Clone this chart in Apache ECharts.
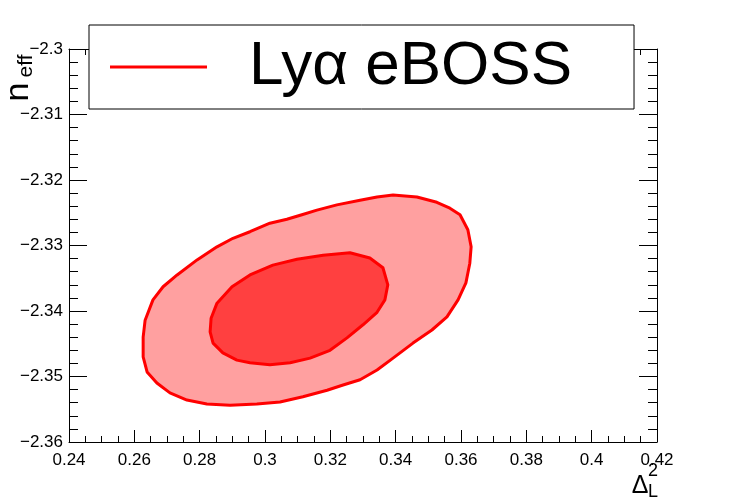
<!DOCTYPE html>
<html>
<head>
<meta charset="utf-8">
<script src="https://cdn.jsdelivr.net/npm/echarts@6/dist/echarts.min.js"></script>
<style>
  html, body { margin: 0; padding: 0; background: #fff; }
  #chart { width: 747px; height: 502px; }
</style>
</head>
<body>
<div id="chart"></div>
<script>
// 95% contour (outer)
var outerContour = [
  [0.3392, -2.3223], [0.3465, -2.3226], [0.3526, -2.3234], [0.3566, -2.3243],
  [0.3597, -2.3253], [0.3621, -2.3276], [0.3631, -2.3302], [0.3627, -2.3327],
  [0.3615, -2.3357], [0.3591, -2.3383], [0.3557, -2.3409], [0.3511, -2.3429],
  [0.3453, -2.3449], [0.3392, -2.3472], [0.3343, -2.3490], [0.3291, -2.3505],
  [0.3239, -2.3513], [0.3190, -2.3521], [0.3116, -2.3531], [0.3046, -2.3539],
  [0.2975, -2.3542], [0.2893, -2.3544], [0.2822, -2.3542], [0.2761, -2.3536],
  [0.2709, -2.3525], [0.2669, -2.3510], [0.2639, -2.3493], [0.2627, -2.3470],
  [0.2627, -2.3440], [0.2633, -2.3414], [0.2657, -2.3383], [0.2688, -2.3363],
  [0.2731, -2.3345], [0.2792, -2.3322], [0.2853, -2.3302], [0.2902, -2.3289],
  [0.2954, -2.3279], [0.3015, -2.3266], [0.3067, -2.3260], [0.3113, -2.3253],
  [0.3159, -2.3246], [0.3220, -2.3238], [0.3291, -2.3231], [0.3343, -2.3226]
];
// 68% contour (inner)
var innerContour = [
  [0.3260, -2.3311], [0.3321, -2.3319], [0.3361, -2.3334], [0.3376, -2.3360],
  [0.3367, -2.3383], [0.3343, -2.3402], [0.3300, -2.3421], [0.3251, -2.3441],
  [0.3199, -2.3460], [0.3138, -2.3472], [0.3077, -2.3479], [0.3015, -2.3482],
  [0.2954, -2.3479], [0.2914, -2.3475], [0.2871, -2.3464], [0.2841, -2.3449],
  [0.2832, -2.3432], [0.2835, -2.3411], [0.2853, -2.3388], [0.2899, -2.3363],
  [0.2954, -2.3345], [0.3024, -2.3330], [0.3098, -2.3321], [0.3178, -2.3315]
];
var legendName = 'Lyα eBOSS';
var xRange = [0.24, 0.42];
var yRange = [-2.36, -2.3];

var font = "'Liberation Sans', Arial, Helvetica, sans-serif";

function fmt(v) {
  return String(parseFloat(v.toFixed(3))).replace('-', '\u2212');
}

function contour(name, points, fill) {
  return {
    name: name,
    type: 'custom',
    coordinateSystem: 'cartesian2d',
    xAxisIndex: 0,
    yAxisIndex: 0,
    silent: true,
    itemStyle: { color: '#ff0000' },
    data: [points[0]],
    renderItem: function (params, api) {
      return {
        type: 'polygon',
        shape: { points: points.map(function (p) { return api.coord(p); }) },
        style: { fill: fill, stroke: '#ff0000', lineWidth: 3, lineJoin: 'round' }
      };
    }
  };
}

function xAxis(pos) {
  return {
    type: 'value', position: pos, min: xRange[0], max: xRange[1], interval: 0.02,
    axisLine: { show: true, onZero: false, lineStyle: { color: '#000', width: 1 } },
    axisTick: { show: true, inside: true, length: 12, lineStyle: { color: '#000' } },
    minorTick: { show: true, splitNumber: 4, length: 6, lineStyle: { color: '#000' } },
    axisLabel: {
      show: pos === 'bottom', formatter: fmt, margin: 10, showMinLabel: true, showMaxLabel: true,
      color: '#000', fontSize: 17, fontFamily: font
    },
    splitLine: { show: false }
  };
}

function yAxis(pos) {
  return {
    type: 'value', position: pos, min: yRange[0], max: yRange[1], interval: 0.01,
    axisLine: { show: true, onZero: false, lineStyle: { color: '#000', width: 1 } },
    axisTick: { show: true, inside: true, length: 18, lineStyle: { color: '#000' } },
    minorTick: { show: true, splitNumber: 5, length: 9, lineStyle: { color: '#000' } },
    axisLabel: {
      show: pos === 'left', formatter: fmt, margin: 6, showMinLabel: true, showMaxLabel: true,
      color: '#000', fontSize: 17, fontFamily: font
    },
    splitLine: { show: false }
  };
}

var chart = echarts.init(document.getElementById('chart'));
chart.setOption({
  animation: false,
  backgroundColor: '#fff',
  grid: { left: 69, right: 90, top: 49, bottom: 60 },
  xAxis: [xAxis('bottom'), xAxis('top')],
  yAxis: [yAxis('left'), yAxis('right')],
  legend: {
    data: [{ name: legendName, icon: 'rect' }],
    left: 89, top: 25,
    padding: [9, 62, 9, 21],
    backgroundColor: '#fff',
    borderColor: '#000', borderWidth: 1, borderRadius: 0,
    itemWidth: 97, itemHeight: 3,
    itemStyle: { color: '#ff0000' },
    textStyle: { fontSize: 62, lineHeight: 66, fontFamily: font, color: '#000', padding: [0, 0, 0, 37] }
  },
  graphic: [
    { type: 'text', x: 19, y: 92, rotation: Math.PI / 2,
      style: { text: 'n', fontSize: 34, fontFamily: font, fill: '#000', align: 'center', verticalAlign: 'middle' } },
    { type: 'text', x: 26, y: 66, rotation: Math.PI / 2,
      style: { text: 'eff', fontSize: 21, fontFamily: font, fill: '#000', align: 'center', verticalAlign: 'middle' } },
    { type: 'text', x: 640, y: 486,
      style: { text: 'Δ', fontSize: 25, fontFamily: font, fill: '#000', align: 'center', verticalAlign: 'middle' } },
    { type: 'text', x: 653, y: 471,
      style: { text: '2', fontSize: 18, fontFamily: font, fill: '#000', align: 'center', verticalAlign: 'middle' } },
    { type: 'text', x: 653, y: 492,
      style: { text: 'L', fontSize: 18, fontFamily: font, fill: '#000', align: 'center', verticalAlign: 'middle' } }
  ],
  series: [
    contour(legendName, outerContour, '#ffa0a0'),
    contour('inner', innerContour, '#ff4040')
  ]
});
</script>
</body>
</html>
